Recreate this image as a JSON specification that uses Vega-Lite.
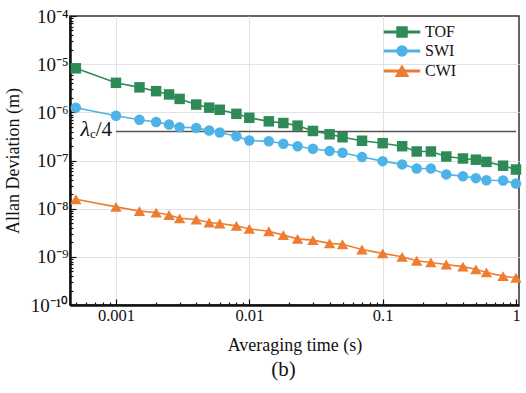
{
  "$schema": "https://vega.github.io/schema/vega-lite/v6.json",
  "autosize": "none",
  "width": 449,
  "height": 289,
  "padding": {"left": 70, "top": 16, "right": 7, "bottom": 88},
  "background": "white",
  "title": {"text": "(b)", "orient": "bottom", "anchor": "middle", "fontSize": 21, "font": "Liberation Serif", "fontWeight": "normal", "color": "#111", "offset": 4, "dx": -11},
  "datasets": {
    "allan": [
      {"series": "TOF", "tau": 0.0005, "dev": 8.2e-6},
      {"series": "TOF", "tau": 0.001, "dev": 4.1e-6},
      {"series": "TOF", "tau": 0.0015, "dev": 3.3e-6},
      {"series": "TOF", "tau": 0.002, "dev": 2.75e-6},
      {"series": "TOF", "tau": 0.0025, "dev": 2.35e-6},
      {"series": "TOF", "tau": 0.003, "dev": 1.9e-6},
      {"series": "TOF", "tau": 0.004, "dev": 1.45e-6},
      {"series": "TOF", "tau": 0.005, "dev": 1.25e-6},
      {"series": "TOF", "tau": 0.006, "dev": 1.13e-6},
      {"series": "TOF", "tau": 0.008, "dev": 9.3e-7},
      {"series": "TOF", "tau": 0.01, "dev": 7.7e-7},
      {"series": "TOF", "tau": 0.014, "dev": 6.5e-7},
      {"series": "TOF", "tau": 0.018, "dev": 6.0e-7},
      {"series": "TOF", "tau": 0.023, "dev": 5.3e-7},
      {"series": "TOF", "tau": 0.03, "dev": 4.1e-7},
      {"series": "TOF", "tau": 0.04, "dev": 3.5e-7},
      {"series": "TOF", "tau": 0.05, "dev": 3.04e-7},
      {"series": "TOF", "tau": 0.07, "dev": 2.57e-7},
      {"series": "TOF", "tau": 0.1, "dev": 2.29e-7},
      {"series": "TOF", "tau": 0.14, "dev": 1.98e-7},
      {"series": "TOF", "tau": 0.18, "dev": 1.54e-7},
      {"series": "TOF", "tau": 0.23, "dev": 1.54e-7},
      {"series": "TOF", "tau": 0.3, "dev": 1.21e-7},
      {"series": "TOF", "tau": 0.4, "dev": 1.1e-7},
      {"series": "TOF", "tau": 0.5, "dev": 1.04e-7},
      {"series": "TOF", "tau": 0.6, "dev": 9.35e-8},
      {"series": "TOF", "tau": 0.8, "dev": 7.8e-8},
      {"series": "TOF", "tau": 1, "dev": 6.5e-8},
      {"series": "SWI", "tau": 0.0005, "dev": 1.25e-6},
      {"series": "SWI", "tau": 0.001, "dev": 8.5e-7},
      {"series": "SWI", "tau": 0.0015, "dev": 7.0e-7},
      {"series": "SWI", "tau": 0.002, "dev": 6.3e-7},
      {"series": "SWI", "tau": 0.0025, "dev": 5.6e-7},
      {"series": "SWI", "tau": 0.003, "dev": 4.9e-7},
      {"series": "SWI", "tau": 0.004, "dev": 4.75e-7},
      {"series": "SWI", "tau": 0.005, "dev": 4.2e-7},
      {"series": "SWI", "tau": 0.006, "dev": 3.8e-7},
      {"series": "SWI", "tau": 0.008, "dev": 3.2e-7},
      {"series": "SWI", "tau": 0.01, "dev": 2.6e-7},
      {"series": "SWI", "tau": 0.014, "dev": 2.5e-7},
      {"series": "SWI", "tau": 0.018, "dev": 2.23e-7},
      {"series": "SWI", "tau": 0.023, "dev": 1.97e-7},
      {"series": "SWI", "tau": 0.03, "dev": 1.76e-7},
      {"series": "SWI", "tau": 0.04, "dev": 1.57e-7},
      {"series": "SWI", "tau": 0.05, "dev": 1.45e-7},
      {"series": "SWI", "tau": 0.07, "dev": 1.18e-7},
      {"series": "SWI", "tau": 0.1, "dev": 9.7e-8},
      {"series": "SWI", "tau": 0.14, "dev": 8.3e-8},
      {"series": "SWI", "tau": 0.18, "dev": 6.8e-8},
      {"series": "SWI", "tau": 0.23, "dev": 6.8e-8},
      {"series": "SWI", "tau": 0.3, "dev": 5.15e-8},
      {"series": "SWI", "tau": 0.4, "dev": 4.7e-8},
      {"series": "SWI", "tau": 0.5, "dev": 4.3e-8},
      {"series": "SWI", "tau": 0.6, "dev": 3.9e-8},
      {"series": "SWI", "tau": 0.8, "dev": 3.85e-8},
      {"series": "SWI", "tau": 1, "dev": 3.33e-8},
      {"series": "CWI", "tau": 0.0005, "dev": 1.57e-8},
      {"series": "CWI", "tau": 0.001, "dev": 1.09e-8},
      {"series": "CWI", "tau": 0.0015, "dev": 8.9e-9},
      {"series": "CWI", "tau": 0.002, "dev": 8.3e-9},
      {"series": "CWI", "tau": 0.0025, "dev": 7.4e-9},
      {"series": "CWI", "tau": 0.003, "dev": 6.3e-9},
      {"series": "CWI", "tau": 0.004, "dev": 5.95e-9},
      {"series": "CWI", "tau": 0.005, "dev": 5.15e-9},
      {"series": "CWI", "tau": 0.006, "dev": 4.93e-9},
      {"series": "CWI", "tau": 0.008, "dev": 4.4e-9},
      {"series": "CWI", "tau": 0.01, "dev": 3.8e-9},
      {"series": "CWI", "tau": 0.014, "dev": 3.4e-9},
      {"series": "CWI", "tau": 0.018, "dev": 2.82e-9},
      {"series": "CWI", "tau": 0.023, "dev": 2.36e-9},
      {"series": "CWI", "tau": 0.03, "dev": 2.22e-9},
      {"series": "CWI", "tau": 0.04, "dev": 1.9e-9},
      {"series": "CWI", "tau": 0.05, "dev": 1.83e-9},
      {"series": "CWI", "tau": 0.07, "dev": 1.42e-9},
      {"series": "CWI", "tau": 0.1, "dev": 1.18e-9},
      {"series": "CWI", "tau": 0.14, "dev": 1.0e-9},
      {"series": "CWI", "tau": 0.18, "dev": 8.3e-10},
      {"series": "CWI", "tau": 0.23, "dev": 7.65e-10},
      {"series": "CWI", "tau": 0.3, "dev": 6.95e-10},
      {"series": "CWI", "tau": 0.4, "dev": 6.26e-10},
      {"series": "CWI", "tau": 0.5, "dev": 5.5e-10},
      {"series": "CWI", "tau": 0.6, "dev": 4.75e-10},
      {"series": "CWI", "tau": 0.8, "dev": 3.98e-10},
      {"series": "CWI", "tau": 1, "dev": 3.67e-10}
    ],
    "limit": [
      {"tau": 0.001, "tau2": 1, "dev": 4e-7}
    ]
  },
  "encoding": {
    "x": {
      "field": "tau", "type": "quantitative",
      "scale": {"type": "log", "domain": [0.000452, 1.053], "nice": false},
      "axis": {
        "title": "Averaging time (s)",
        "values": [0.0005, 0.0006, 0.0007, 0.0008, 0.0009, 0.001, 0.002, 0.003, 0.004, 0.005, 0.006, 0.007, 0.008, 0.009, 0.01, 0.02, 0.03, 0.04, 0.05, 0.06, 0.07, 0.08, 0.09, 0.1, 0.2, 0.3, 0.4, 0.5, 0.6, 0.7, 0.8, 0.9, 1],
        "labelExpr": "datum.value == 0.001 ? '0.001' : datum.value == 0.01 ? '0.01' : datum.value == 0.1 ? '0.1' : datum.value == 1 ? '1' : ''",
        "labelFontSize": 16.5,
        "labelPadding": 8,
        "labelOverlap": false,
        "labelFlush": false,
        "titleFontSize": 18,
        "titlePadding": 10,
        "tickSize": {"condition": {"test": "datum.value == 0.001 || datum.value == 0.01 || datum.value == 0.1 || datum.value == 1", "value": -6}, "value": -3},
        "gridOpacity": {"condition": {"test": "datum.value == 0.001 || datum.value == 0.01 || datum.value == 0.1", "value": 1}, "value": 0}
      }
    },
    "y": {
      "field": "dev", "type": "quantitative",
      "scale": {"type": "log", "domain": [1e-10, 1e-4], "nice": false},
      "axis": {
        "title": "Allan Deviation (m)",
        "values": [1e-10, 2e-10, 3e-10, 4e-10, 5e-10, 6e-10, 7e-10, 8e-10, 9e-10, 1e-9, 2e-9, 3e-9, 4e-9, 5e-9, 6e-9, 7e-9, 8e-9, 9e-9, 1e-8, 2e-8, 3e-8, 4e-8, 5e-8, 6e-8, 7e-8, 8e-8, 9e-8, 1e-7, 2e-7, 3e-7, 4e-7, 5e-7, 6e-7, 7e-7, 8e-7, 9e-7, 1e-6, 2e-6, 3e-6, 4e-6, 5e-6, 6e-6, 7e-6, 8e-6, 9e-6, 1e-5, 2e-5, 3e-5, 4e-5, 5e-5, 6e-5, 7e-5, 8e-5, 9e-5, 1e-4],
        "labelExpr": "datum.value == 1e-4 ? '10⁻⁴' : datum.value == 1e-5 ? '10⁻⁵' : datum.value == 1e-6 ? '10⁻⁶' : datum.value == 1e-7 ? '10⁻⁷' : datum.value == 1e-8 ? '10⁻⁸' : datum.value == 1e-9 ? '10⁻⁹' : datum.value == 1e-10 ? '10⁻¹⁰' : ''",
        "labelFontSize": 19,
        "labelPadding": 8,
        "labelOverlap": false,
        "labelFlush": false,
        "titleFontSize": 18,
        "titlePadding": 8,
        "tickSize": {"condition": {"test": "abs(log(datum.value)/LN10 - round(log(datum.value)/LN10)) < 0.001", "value": -6}, "value": -3},
        "gridOpacity": {"condition": {"test": "abs(log(datum.value)/LN10 - round(log(datum.value)/LN10)) < 0.001 && datum.value > 1.5e-10 && datum.value < 0.9e-4", "value": 1}, "value": 0}
      }
    }
  },
  "layer": [
    {
      "data": {"name": "limit"},
      "mark": {"type": "rule", "color": "#555555", "strokeWidth": 1.6},
      "encoding": {"x2": {"field": "tau2"}}
    },
    {
      "data": {"name": "limit"},
      "mark": {"type": "text", "text": "λ", "font": "Liberation Serif", "fontStyle": "italic", "fontSize": 22, "align": "right", "baseline": "alphabetic", "dx": -26, "dy": 4, "color": "#111"}
    },
    {
      "data": {"name": "limit"},
      "mark": {"type": "text", "text": "c", "font": "Liberation Serif", "fontSize": 13, "align": "left", "baseline": "alphabetic", "dx": -26, "dy": 6, "color": "#111"}
    },
    {
      "data": {"name": "limit"},
      "mark": {"type": "text", "text": "/4", "font": "Liberation Serif", "fontSize": 21, "align": "right", "baseline": "alphabetic", "dx": -4, "dy": 4, "color": "#111"}
    },
    {
      "data": {"name": "allan"},
      "mark": {"type": "line", "strokeWidth": 1.6},
      "encoding": {
        "color": {"field": "series", "type": "nominal", "scale": {"domain": ["TOF", "SWI", "CWI"], "range": ["#2e8b57", "#4db3e6", "#ee7d31"]}}
      }
    },
    {
      "data": {"name": "allan"},
      "transform": [{"filter": "datum.series === 'TOF'"}],
      "mark": {"type": "point", "shape": "square", "filled": true, "opacity": 1, "size": 110},
      "encoding": {"color": {"field": "series", "type": "nominal"}}
    },
    {
      "data": {"name": "allan"},
      "transform": [{"filter": "datum.series === 'SWI'"}],
      "mark": {"type": "point", "shape": "circle", "filled": true, "opacity": 1, "size": 110},
      "encoding": {"color": {"field": "series", "type": "nominal"}}
    },
    {
      "data": {"name": "allan"},
      "transform": [{"filter": "datum.series === 'CWI'"}],
      "mark": {"type": "point", "shape": "triangle-up", "filled": true, "opacity": 1, "size": 130},
      "encoding": {"color": {"field": "series", "type": "nominal"}}
    },
    {
      "data": {"name": "allan"},
      "transform": [{"filter": "datum.series === 'none'"}],
      "mark": {"type": "point", "filled": true, "opacity": 1},
      "encoding": {
        "color": {"field": "series", "type": "nominal"},
        "shape": {"field": "series", "type": "nominal", "scale": {"domain": ["TOF", "SWI", "CWI"], "range": [
          "M-3.5,-0.16H3.5V0.16H-3.5ZM-1,-1H1V1H-1Z",
          "M-3.5,-0.16H3.5V0.16H-3.5ZM1,0A1,1,0,1,1,-1,0A1,1,0,1,1,1,0Z",
          "M-3.5,-0.16H3.5V0.16H-3.5ZM0,-1.04L1.2,1.04H-1.2Z"
        ]}}
      }
    }
  ],
  "config": {
    "font": "Liberation Serif",
    "view": {"stroke": "#333333", "strokeWidth": 1.5},
    "axis": {"labelFont": "Liberation Serif", "titleFont": "Liberation Serif", "labelColor": "#111111", "titleColor": "#111111", "titleFontWeight": "normal", "domainColor": "#111111", "domainWidth": 2.5, "tickColor": "#111111", "tickWidth": 1.2, "gridColor": "#e2e2e2", "gridWidth": 1},
    "legend": {
      "title": null, "orient": "none", "legendX": 324, "legendY": 8, "symbolSize": 100, "labelFontSize": 16, "labelFont": "Liberation Serif", "labelColor": "#111111", "labelOffset": 15, "rowPadding": 3
    }
  }
}
